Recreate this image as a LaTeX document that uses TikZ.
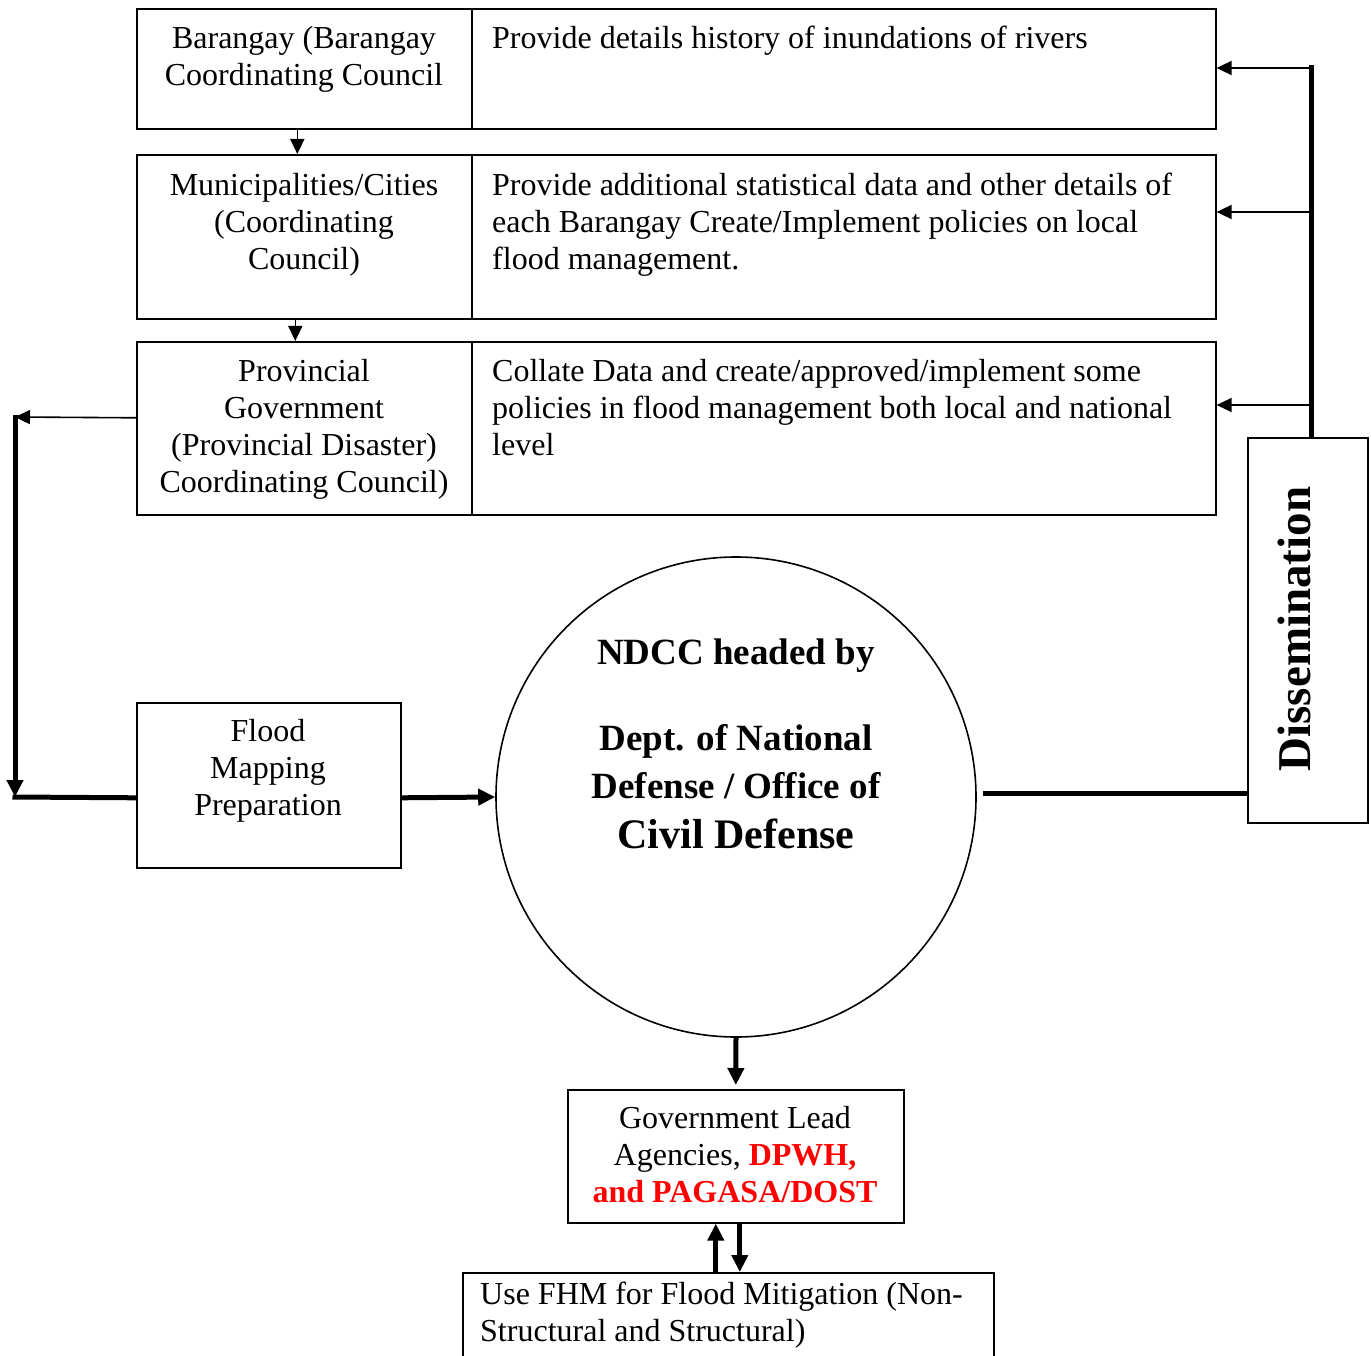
\documentclass[tikz,border=0pt]{standalone}
\usepackage{fontspec}
\setmainfont{Liberation Serif}
\usetikzlibrary{arrows.meta}
\begin{document}
\begin{tikzpicture}[x=1pt,y=-1pt,
  box/.style={draw, line width=1.6pt, inner sep=0pt, anchor=north west},
  txt/.style={inner sep=0pt, anchor=north, align=center, font=\fontsize{32}{37}\selectfont},
  ltxt/.style={inner sep=0pt, anchor=north west, align=left, font=\fontsize{32}{37}\selectfont},
  thinarr/.style={line width=1.6pt, -{Triangle[length=15pt,width=14pt]}},
  thickarr/.style={line width=5pt, -{Triangle[length=17pt,width=16pt]}},
  thickline/.style={line width=5pt},
  bigb/.style={inner sep=0pt, anchor=base, font=\fontsize{37}{44}\selectfont\bfseries},
]
\clip (0,0) rectangle (1371,1356);
% rows
\node[box, minimum width=335, minimum height=120] (r1l) at (136,8) {};
\node[box, minimum width=744, minimum height=120] (r1r) at (471,8) {};
\node[box, minimum width=335, minimum height=164] (r2l) at (136,154) {};
\node[box, minimum width=744, minimum height=164] (r2r) at (471,154) {};
\node[box, minimum width=335, minimum height=173] (r3l) at (136,341) {};
\node[box, minimum width=744, minimum height=173] (r3r) at (471,341) {};
% row texts
\node[txt] (t1l) at (304,22) {\strut Barangay (Barangay\\Coordinating Council};
\node[ltxt] (t1r) at (492,22) {\strut Provide details history of inundations of rivers};
\node[txt] (t2l) at (304,169) {\strut Municipalities/Cities\\(Coordinating\\Council)};
\node[ltxt] (t2r) at (492,169) {\strut Provide additional statistical data and other details of\\each Barangay Create/Implement policies on local\\flood management.};
\node[txt] (t3l) at (304,355) {\strut Provincial\\Government\\(Provincial Disaster)\\Coordinating Council)};
\node[ltxt] (t3r) at (492,355) {\strut Collate Data and create/approved/implement some\\policies in flood management both local and national\\level};
% arrows between rows
\draw[thinarr] ([xshift=-7pt]r1l.south) -- ([xshift=-7pt]r1l.south |- r2l.north);
\draw[thinarr] ([xshift=-9pt]r2l.south) -- ([xshift=-9pt]r2l.south |- r3l.north);
% flood box
\node[box, minimum width=264, minimum height=165] (flood) at (136,702) {};
\node[txt] (tflood) at (268,715) {\strut Flood\\Mapping\\Preparation};
% circle
\node[draw, circle, minimum size=480, line width=1.6pt, inner sep=0pt] (ndcc) at (736,797) {};
\node[bigb] (c1) at (736,664) {NDCC headed by};
\node[bigb] (c2) at (736,750) {Dept. of National};
\node[bigb] (c3) at (736,798) {Defense / Office of};
\node[bigb, font=\fontsize{42}{48}\selectfont\bfseries] (c4) at (736,848) {Civil Defense};
% dissemination
\node[box, minimum width=120, minimum height=385] (diss) at (1247,437) {};
\node[inner sep=0pt, rotate=90, font=\fontsize{47}{52}\selectfont\bfseries] (tdiss) at (1294,629) {Dissemination};
% government box
\node[box, minimum width=336, minimum height=133] (gov) at (567,1089) {};
\node[txt] (tgov) at (735,1102) {\strut Government Lead\\Agencies, \textcolor{red}{\bfseries DPWH,}\\\textcolor{red}{\bfseries and PAGASA/DOST}};
% bottom box
\node[box, minimum width=531, minimum height=110] (bot) at (462,1272) {};
\node[ltxt] (tbot) at (480,1278) {\strut Use FHM for Flood Mitigation (Non-\\Structural and Structural)};
% left feedback
\coordinate (lc) at (15,417);
\coordinate (lb) at (15,797);
\draw[thinarr] ([yshift=10.5pt]r3l.west) -- (lc);
\draw[thickarr] ([yshift=2pt]lc) -- (lb);
\draw[thickline] ([yshift=-12.5pt]flood.west) -- ([xshift=-2.5pt]lb);
\draw[thickarr] ([yshift=-12.5pt]flood.east) -- (ndcc.west);
% circle to dissemination
\coordinate (ce) at (983,793);
\draw[thickline] (ce) -- (ce -| diss.west);
% right distribution
\coordinate (rt) at (1311,68);
\coordinate (rm) at (1311,212);
\coordinate (rb) at (1311,405);
\draw[thickline] (rt |- diss.north) -- ([yshift=2.5pt]rt);
\draw[thinarr] (rt) -- (rt -| r1r.east);
\draw[thinarr] (rm) -- (rm -| r2r.east);
\draw[thinarr] (rb) -- (rb -| r3r.east);
% down to government
\draw[thickarr, shorten >=4pt] (ndcc.south) -- (gov.north);
\draw[thickarr] ([xshift=-20pt]gov.south |- bot.north) -- ([xshift=-20pt]gov.south);
\draw[thickarr] ([xshift=4pt]gov.south) -- ([xshift=4pt]gov.south |- bot.north);
\end{tikzpicture}
\end{document}
